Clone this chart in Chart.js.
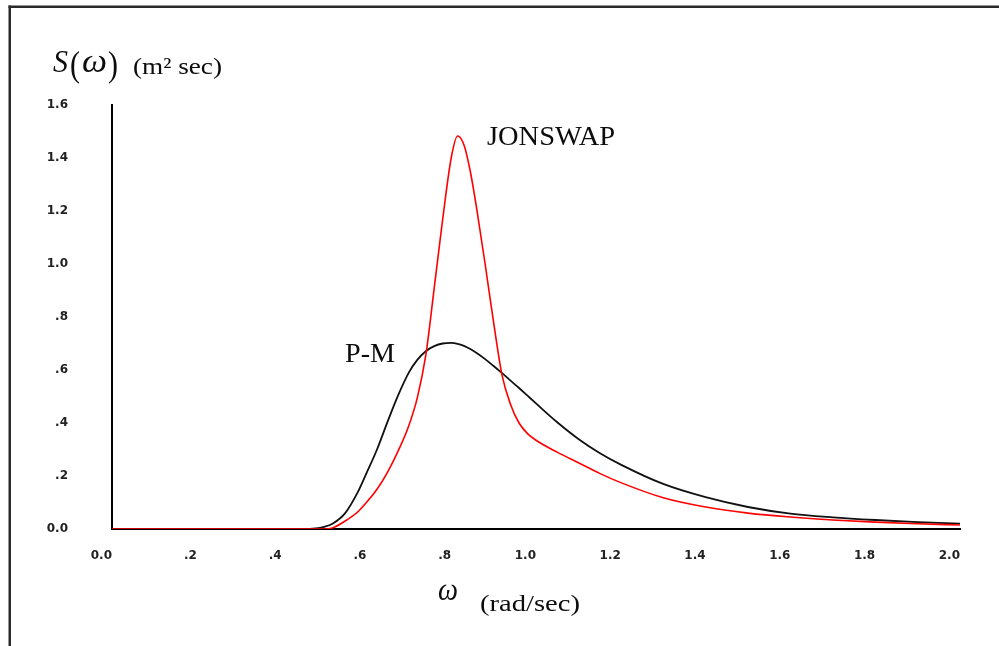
<!DOCTYPE html>
<html>
<head>
<meta charset="utf-8">
<title>P-M and JONSWAP spectra</title>
<script src="https://cdn.jsdelivr.net/npm/chart.js@4.4.1/dist/chart.umd.min.js"></script>
<style>
  html, body { margin: 0; padding: 0; background: #fff; }
  #wrap { position: relative; width: 999px; height: 646px; }
</style>
</head>
<body>
<div id="wrap"><canvas id="spectrumChart" width="999" height="646"></canvas></div>
<script>
// Frequency grid (rad/sec)
const omega = [0, 0.1, 0.2, 0.3, 0.4, 0.45, 0.48, 0.5, 0.52, 0.55, 0.58, 0.6, 0.625, 0.65, 0.675, 0.7,
  0.72, 0.74, 0.76, 0.78, 0.8, 0.815, 0.83, 0.845, 0.86, 0.88, 0.9, 0.92, 0.94, 0.96, 0.98, 1.0,
  1.05, 1.1, 1.15, 1.2, 1.3, 1.4, 1.5, 1.6, 1.7, 1.8, 1.9, 2.0];

// JONSWAP spectrum S(w)
const jonswap = [0, 0, 0, 0, 0, 0, 0, 0, 0.004, 0.03, 0.065, 0.10, 0.15, 0.215, 0.295, 0.39,
  0.495, 0.655, 0.91, 1.17, 1.40, 1.483, 1.45, 1.35, 1.21, 1.00, 0.78, 0.58, 0.47, 0.40, 0.36, 0.335,
  0.29, 0.25, 0.21, 0.175, 0.118, 0.083, 0.06, 0.045, 0.034, 0.026, 0.02, 0.015];

// Pierson-Moskowitz spectrum S(w)
const pm = [0, 0, 0, 0, 0, 0, 0.002, 0.008, 0.02, 0.06, 0.14, 0.21, 0.30, 0.405, 0.505, 0.59,
  0.638, 0.671, 0.69, 0.70, 0.702, 0.699, 0.691, 0.679, 0.664, 0.641, 0.615, 0.588, 0.56, 0.532, 0.503, 0.474,
  0.403, 0.34, 0.287, 0.243, 0.17, 0.12, 0.083, 0.058, 0.044, 0.034, 0.026, 0.02];

// Tick labels as printed on the axes
const xTickLabels = ['0.0', '.2', '.4', '.6', '.8', '1.0', '1.2', '1.4', '1.6', '1.8', '2.0'];
const yTickLabels = ['0.0', '.2', '.4', '.6', '.8', '1.0', '1.2', '1.4', '1.6'];

const serif = '"Liberation Serif", "Times New Roman", serif';

// draw a text squeezed/stretched to a given width
function fitText(ctx, text, x, y, font, width) {
  ctx.save();
  ctx.font = font;
  const w = ctx.measureText(text).width;
  ctx.translate(x, y);
  ctx.scale(width / w, 1);
  ctx.fillText(text, 0, 0);
  ctx.restore();
}

// frame and free text around the plot
const annotations = {
  id: 'annotations',
  beforeDraw(chart) {
    const ctx = chart.ctx;
    ctx.save();
    ctx.fillStyle = '#fff';
    ctx.fillRect(0, 0, chart.width, chart.height);
    ctx.fillStyle = '#2a2a2a';
    ctx.fillRect(8.5, 5.5, chart.width, 2.5);
    ctx.fillRect(8.5, 5.5, 2.5, chart.height);
    ctx.restore();
  },
  afterDraw(chart) {
    const ctx = chart.ctx;
    ctx.save();
    ctx.fillStyle = '#0c0c0c';
    ctx.textBaseline = 'alphabetic';
    ctx.textAlign = 'left';

    // y axis title: S(w) (m² sec)
    fitText(ctx, 'S', 53, 72, 'italic 31px ' + serif, 15);
    fitText(ctx, '(', 70, 76, '36px ' + serif, 10);
    fitText(ctx, 'ω', 82, 72, 'italic 33px ' + serif, 25);
    fitText(ctx, ')', 108, 76, '36px ' + serif, 10);
    fitText(ctx, '(m² sec)', 133, 74, '23px ' + serif, 89);

    // curve labels
    fitText(ctx, 'JONSWAP', 487, 145, '27px ' + serif, 128);
    fitText(ctx, 'P-M', 345, 362, '27px ' + serif, 50);

    // x axis title
    fitText(ctx, 'ω', 438, 600, 'italic 32px ' + serif, 20);
    fitText(ctx, '(rad/sec)', 480, 611, '23px ' + serif, 100);
    ctx.restore();
  }
};

function toPoints(values) {
  return omega.map((w, i) => ({ x: w, y: values[i] }));
}

const tickFont = { family: '"DejaVu Sans", Verdana, sans-serif', size: 12, weight: 'bold' };

new Chart(document.getElementById('spectrumChart').getContext('2d'), {
  type: 'line',
  data: {
    datasets: [
      {
        label: 'JONSWAP',
        data: toPoints(jonswap),
        borderColor: '#ff0000',
        borderWidth: 1.6,
        pointRadius: 0,
        cubicInterpolationMode: 'monotone',
        fill: false
      },
      {
        label: 'P-M',
        data: toPoints(pm),
        borderColor: '#111111',
        borderWidth: 1.8,
        pointRadius: 0,
        cubicInterpolationMode: 'monotone',
        fill: false
      }
    ]
  },
  options: {
    responsive: false,
    animation: false,
    events: [],
    layout: { padding: { top: 105, right: 39, bottom: 0, left: 0 } },
    plugins: {
      legend: { display: false },
      tooltip: { enabled: false }
    },
    scales: {
      x: {
        type: 'linear',
        min: 0,
        max: 2,
        afterFit: s => { s.height = 117; },
        grid: { display: false, drawTicks: false },
        border: { display: true, color: '#000', width: 2 },
        ticks: {
          stepSize: 0.2,
          align: 'end',
          padding: 20,
          color: '#222',
          font: tickFont,
          maxRotation: 0,
          autoSkip: false,
          callback: (v, i) => xTickLabels[i]
        }
      },
      y: {
        min: 0,
        max: 1.6,
        afterFit: s => { s.width = 112; },
        grid: { display: false, drawTicks: false },
        border: { display: true, color: '#000', width: 2 },
        ticks: {
          stepSize: 0.2,
          padding: 44,
          color: '#222',
          font: tickFont,
          autoSkip: false,
          callback: (v, i) => yTickLabels[i]
        }
      }
    }
  },
  plugins: [annotations]
});
</script>
</body>
</html>
